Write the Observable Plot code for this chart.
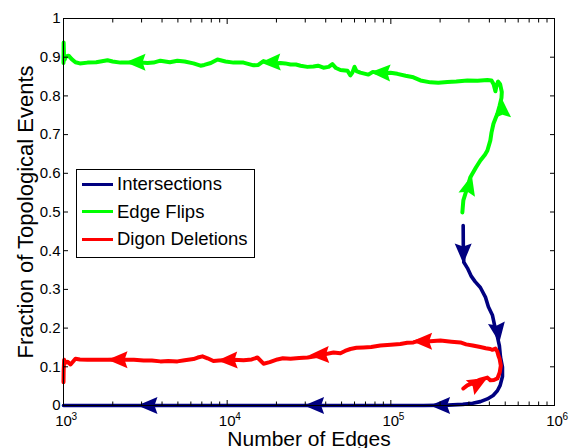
<!DOCTYPE html>
<html><head><meta charset="utf-8">
<script src="https://cdn.jsdelivr.net/npm/d3@7"></script>
<script src="https://cdn.jsdelivr.net/npm/@observablehq/plot@0.6"></script>
<style>
body{margin:0;background:#fff;font-family:"Liberation Sans",Arial,sans-serif;}
#wrap{position:relative;width:571px;height:448px;overflow:hidden;}
#legend{position:absolute;left:75.5px;top:168.5px;width:179px;height:89px;border:1px solid #000;background:#fff;box-sizing:border-box;}
#legend .row{position:absolute;left:0;height:22px;line-height:22px;font-size:18.5px;color:#000;white-space:nowrap;}
#legend .sw{position:absolute;left:5.5px;top:9.5px;width:31px;height:3px;}
#legend .lb{position:absolute;left:40.5px;top:0;}
</style></head><body><div id="wrap"></div><script>
// ---- data (x stored as log10(Number of Edges), y as fraction), in time order ----
const seriesNames = ["Intersections", "Edge Flips", "Digon Deletions"];
const seriesColors = ["#000080", "#00ff00", "#ff0000"];

const intersections = [
  [5.442,0.465],[5.443,0.40],[5.446,0.37],[5.468,0.355],[5.49,0.335],[5.515,0.32],[5.547,0.305],
  [5.578,0.28],[5.596,0.255],[5.621,0.233],[5.635,0.205],[5.650,0.18],[5.663,0.155],[5.670,0.125],
  [5.682,0.099],[5.682,0.075],[5.668,0.052],[5.651,0.038],[5.625,0.026],[5.59,0.017],[5.547,0.01],
  [5.50,0.006],[5.44,0.003],[5.35,0.001],[5.2,0],[3,0]
];
const edgeFlips = [
  [5.437,0.499],[5.443,0.53],[5.465,0.56],[5.486,0.59],[5.52,0.615],[5.547,0.633],[5.575,0.648],
  [5.590,0.659],[5.608,0.685],[5.615,0.705],[5.627,0.728],[5.640,0.742],[5.651,0.754],[5.665,0.775],
  [5.676,0.795],[5.678,0.81],[5.668,0.83],[5.655,0.837],[5.645,0.825],[5.639,0.812],[5.628,0.83],
  [5.615,0.840],[5.59,0.841],[5.53,0.839],[5.468,0.84],[5.40,0.837],[5.346,0.836],[5.29,0.834],
  [5.242,0.835],[5.181,0.84],[5.138,0.848],[5.09,0.852],[5.04,0.857],[4.998,0.86],[4.94,0.858],
  [4.89,0.862],[4.863,0.855],[4.814,0.86],[4.790,0.864],[4.778,0.875],[4.765,0.86],[4.753,0.853],
  [4.735,0.865],[4.692,0.867],[4.665,0.872],[4.643,0.882],[4.62,0.875],[4.588,0.873],[4.555,0.878],
  [4.527,0.876],[4.49,0.875],[4.448,0.878],[4.42,0.881],[4.387,0.881],[4.355,0.884],[4.326,0.885],
  [4.27,0.884],[4.222,0.89],[4.19,0.88],[4.161,0.879],[4.10,0.886],[4.039,0.886],[3.99,0.889],
  [3.941,0.894],[3.90,0.885],[3.86,0.88],[3.837,0.878],[3.794,0.884],[3.74,0.889],[3.696,0.891],
  [3.65,0.887],[3.592,0.891],[3.55,0.886],[3.513,0.885],[3.45,0.887],[3.40,0.886],[3.348,0.886],
  [3.30,0.889],[3.269,0.892],[3.20,0.887],[3.147,0.886],[3.10,0.884],[3.073,0.887],[3.05,0.895],
  [3.031,0.904],[3.015,0.902],[3.006,0.893],[3.003,0.905],[3.001,0.938],[3.0,0.885]
];
const digonDeletions = [
  [5.443,0.044],[5.467,0.052],[5.50,0.058],[5.54,0.066],[5.59,0.072],[5.608,0.065],[5.63,0.066],
  [5.651,0.07],[5.665,0.085],[5.672,0.103],[5.665,0.12],[5.657,0.129],[5.650,0.14],[5.639,0.147],
  [5.62,0.144],[5.608,0.146],[5.58,0.148],[5.547,0.151],[5.50,0.155],[5.46,0.158],[5.425,0.163],
  [5.37,0.165],[5.303,0.168],[5.24,0.166],[5.17,0.167],[5.138,0.163],[5.10,0.162],[5.058,0.159],
  [5.00,0.157],[4.936,0.155],[4.88,0.151],[4.833,0.15],[4.79,0.149],[4.753,0.146],[4.72,0.141],
  [4.692,0.135],[4.65,0.137],[4.594,0.132],[4.55,0.128],[4.491,0.124],[4.44,0.123],[4.387,0.121],
  [4.34,0.122],[4.307,0.119],[4.26,0.112],[4.222,0.108],[4.185,0.124],[4.15,0.119],[4.10,0.117],
  [4.04,0.118],[3.95,0.116],[3.916,0.115],[3.88,0.122],[3.849,0.127],[3.82,0.124],[3.794,0.12],
  [3.74,0.117],[3.696,0.114],[3.64,0.115],[3.592,0.114],[3.54,0.116],[3.49,0.116],[3.43,0.118],
  [3.385,0.118],[3.33,0.119],[3.269,0.118],[3.20,0.118],[3.147,0.118],[3.10,0.119],[3.073,0.121],
  [3.043,0.106],[3.025,0.113],[3.012,0.111],[3.004,0.118],[3.001,0.09],[3.0,0.06]
];
// arrowheads: [tail log10 edges, tail fraction, tip log10 edges, tip fraction]
const intersectionsArrows = [
  [5.442,0.42,5.443,0.367],[5.65,0.2,5.663,0.163],
  [5.33,0,5.24,0],[4.55,0,4.47,0],[3.55,0,3.452,0]
];
const edgeFlipsArrows = [
  [5.47,0.555,5.495,0.595],[5.682,0.75,5.676,0.795],
  [4.95,0.86,4.875,0.861],[4.27,0.887,4.204,0.886],[3.45,0.887,3.379,0.887]
];
const digonArrows = [
  [5.50,0.05,5.59,0.072],[5.20,0.166,5.13,0.166],[4.57,0.131,4.50,0.13],
  [4.01,0.117,3.941,0.116],[3.34,0.118,3.269,0.118]
];
const xMajorTicks = [1e3,1e4,1e5,1e6];
const xMinorTicks = [2e3,3e3,4e3,5e3,6e3,7e3,8e3,9e3,2e4,3e4,4e4,5e4,6e4,7e4,8e4,9e4,2e5,3e5,4e5,5e5,6e5,7e5,8e5,9e5];
const yTicks = [0,0.1,0.2,0.3,0.4,0.5,0.6,0.7,0.8,0.9,1];
const xLabel = "Number of Edges";
const yLabel = "Fraction of Topological Events";

// ---- build ----
const allSeries = [intersections, edgeFlips, digonDeletions].map(s => s.map(([e,f]) => ({edges: 10**e, frac: f})));
const allArrows = [intersectionsArrows, edgeFlipsArrows, digonArrows];
const lineWidths = [3.6, 4, 4];

const arrowSymbol = {
  draw(ctx) {
    const L = 20, w = 17, n = 17;
    ctx.moveTo(0, 0);
    ctx.lineTo(w/2, L);
    ctx.lineTo(0, n);
    ctx.lineTo(-w/2, L);
    ctx.closePath();
  }
};

const font = "'Liberation Sans', Arial, sans-serif";
function make(seriesMarks) {
  return Plot.plot({
    width: 571, height: 448,
    marginLeft: 63, marginRight: 17, marginTop: 18, marginBottom: 43,
    style: {fontFamily: font, background: "#fff", color: "#000", overflow: "visible"},
    x: {type: "log", domain: [1e3, 1e6]},
    y: {domain: [0, 1]},
    marks: [
      ...seriesMarks,
      Plot.frame({stroke: "#000", strokeWidth: 1}),
      Plot.axisY(yTicks, {anchor: "left", tickSize: -5, tickPadding: 8, fontSize: 15, color: "#000", label: null,
        tickFormat: d => d === 0 ? "0" : d === 1 ? "1" : d.toFixed(1)}),
      Plot.axisY(yTicks, {anchor: "right", tickSize: -5, tickFormat: () => "", color: "#000", label: null}),
      Plot.axisX(xMajorTicks, {anchor: "bottom", tickSize: -5, tickFormat: () => "", color: "#000", label: null}),
      Plot.axisX(xMajorTicks, {anchor: "top", tickSize: -5, tickFormat: () => "", color: "#000", label: null}),
      Plot.axisX(xMinorTicks, {anchor: "bottom", tickSize: -3.5, tickFormat: () => "", color: "#000", label: null}),
      Plot.axisX(xMinorTicks, {anchor: "top", tickSize: -3.5, tickFormat: () => "", color: "#000", label: null}),
      Plot.text(xMajorTicks, {x: d => d, frameAnchor: "bottom", text: () => "10", lineAnchor: "top", dy: 10, fontSize: 15, fill: "#000"}),
      Plot.text(xMajorTicks, {x: d => d, frameAnchor: "bottom", text: d => String(Math.round(Math.log10(d))), lineAnchor: "top", dy: 7, dx: 8, textAnchor: "start", fontSize: 10, fill: "#000"}),
      Plot.text([xLabel], {text: d => d, frameAnchor: "bottom", dy: 40, lineAnchor: "bottom", textAnchor: "middle", fontSize: 21, fill: "#000"}),
      Plot.text([yLabel], {text: d => d, frameAnchor: "left", dx: -31, rotate: -90, lineAnchor: "bottom", textAnchor: "middle", fontSize: 22, fill: "#000"})
    ]
  });
}

// first pass only to read the scales for arrowhead orientation
const first = make([]);
const sx = first.scale("x"), sy = first.scale("y");
const seriesMarks = allSeries.flatMap((s, i) => {
  const data = allArrows[i].map(([te, tf, he, hf]) => {
    const dx = sx.apply(10**he) - sx.apply(10**te);
    const dy = sy.apply(hf) - sy.apply(tf);
    return {edges: 10**he, frac: hf, angle: Math.atan2(dx, -dy) * 180 / Math.PI};
  });
  return [
    Plot.line(s, {x: "edges", y: "frac", stroke: seriesColors[i], strokeWidth: lineWidths[i], strokeLinejoin: "round"}),
    Plot.dot(data, {x: "edges", y: "frac", rotate: "angle", symbol: arrowSymbol, fill: seriesColors[i], stroke: "none", r: 8})
  ];
});
const chart = make(seriesMarks);
const wrap = document.getElementById("wrap");
wrap.append(chart);

// legend (inside the axes, as in the reference)
const legend = document.createElement("div");
legend.id = "legend";
const rowCenters = [14.5, 42.2, 69.5];
seriesNames.forEach((name, i) => {
  const row = document.createElement("div");
  row.className = "row";
  row.style.top = (rowCenters[i] - 11) + "px";
  const sw = document.createElement("div");
  sw.className = "sw"; sw.style.background = seriesColors[i];
  const lb = document.createElement("span");
  lb.className = "lb"; lb.textContent = name;
  row.append(sw, lb);
  legend.append(row);
});
wrap.append(legend);
</script></body></html>
